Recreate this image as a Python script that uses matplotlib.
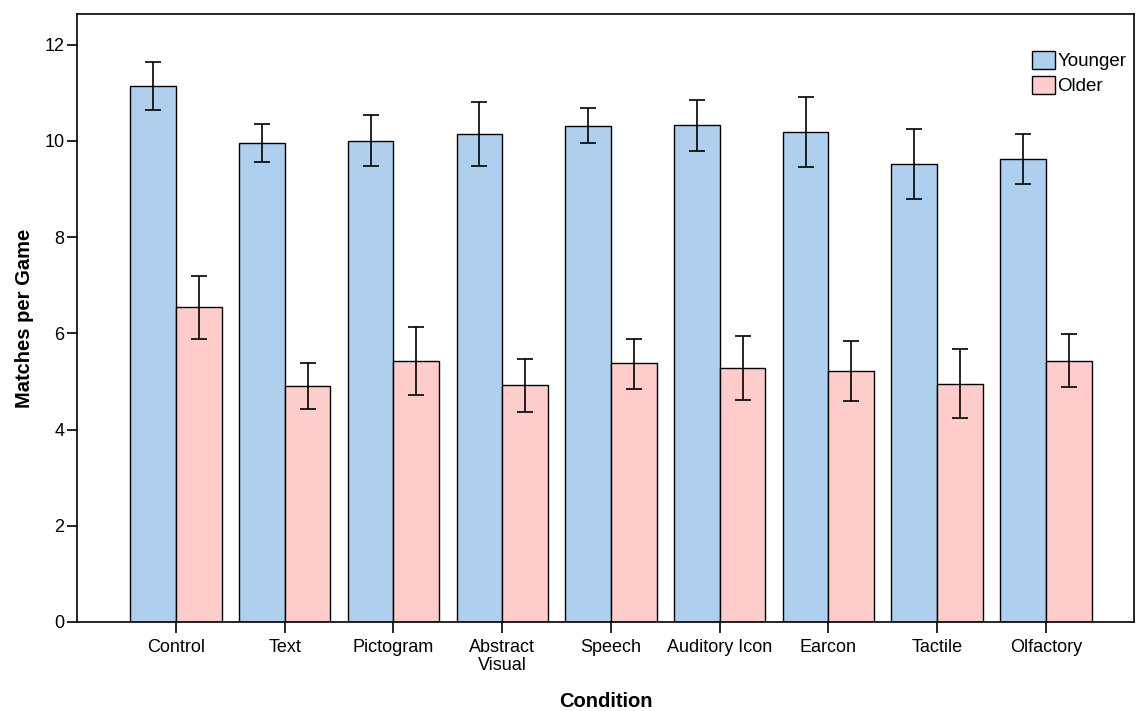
"""Matches per game by condition, younger vs older participants."""

import numpy as np
import matplotlib
matplotlib.use("Agg")
from matplotlib import pyplot as plt

conditions = ["Control", "Text", "Pictogram", "Abstract\nVisual", "Speech",
              "Auditory Icon", "Earcon", "Tactile", "Olfactory"]

younger = [11.14, 9.96, 10.00, 10.15, 10.32, 10.34, 10.19, 9.52, 9.62]
younger_hi = [11.64, 10.35, 10.54, 10.81, 10.69, 10.86, 10.92, 10.25, 10.14]
younger_lo = [10.65, 9.57, 9.48, 9.48, 9.95, 9.80, 9.45, 8.80, 9.10]

older = [6.54, 4.91, 5.43, 4.92, 5.38, 5.28, 5.22, 4.95, 5.42]
older_hi = [7.19, 5.39, 6.14, 5.47, 5.89, 5.95, 5.84, 5.67, 5.98]
older_lo = [5.89, 4.43, 4.72, 4.37, 4.85, 4.62, 4.60, 4.25, 4.88]

plt.rcParams["font.family"] = ["Liberation Sans", "DejaVu Sans"]

fig = plt.figure(figsize=(11.37, 7.11), dpi=100)
ax = fig.add_axes([77 / 1137, 89 / 711, 1057 / 1137, 608 / 711])

x = np.arange(len(conditions))
w = 0.42


def _err(vals, lo, hi):
    vals, lo, hi = map(np.asarray, (vals, lo, hi))
    return np.vstack([vals - lo, hi - vals])


ax.bar(x - w / 2, younger, w, color="#aed0ee", edgecolor="black", linewidth=1,
       label="Younger", zorder=2)
ax.bar(x + w / 2, older, w, color="#fecccb", edgecolor="black", linewidth=1,
       label="Older", zorder=2)
ax.errorbar(x - w / 2, younger, yerr=_err(younger, younger_lo, younger_hi),
            fmt="none", ecolor="black", elinewidth=1.2, capsize=5.5, capthick=1.2, zorder=3)
ax.errorbar(x + w / 2, older, yerr=_err(older, older_lo, older_hi),
            fmt="none", ecolor="black", elinewidth=1.2, capsize=5.5, capthick=1.2, zorder=3)

ax.set_xlim(-0.91, 8.81)
ax.set_ylim(0, 12.64)
ax.set_yticks([0, 2, 4, 6, 8, 10, 12])
ax.set_xticks(x)
ax.set_xticklabels(conditions, fontsize=13, linespacing=1.1)
ax.tick_params(axis="y", labelsize=13, length=7, width=1.2, pad=2)
ax.tick_params(axis="x", length=8, width=1.2, pad=4)
for sp in ax.spines.values():
    sp.set_linewidth(1.2)

ax.set_xlabel("Condition", fontsize=14.5, fontweight="bold")
ax.set_ylabel("Matches per Game", fontsize=14.5, fontweight="bold")
ax.xaxis.set_label_coords(0.5, -0.13)
ax.yaxis.set_label_coords(-0.05, 0.5)
ax.xaxis.label.set_va("center")
ax.yaxis.label.set_va("center")

ax.legend(loc="upper right", bbox_to_anchor=(1.0, 0.952), frameon=False, fontsize=13.5,
          handlelength=1.2, handleheight=1.1, handletextpad=0.15, labelspacing=0.3,
          borderaxespad=0.0)

fig.savefig("out.png", dpi=100)
